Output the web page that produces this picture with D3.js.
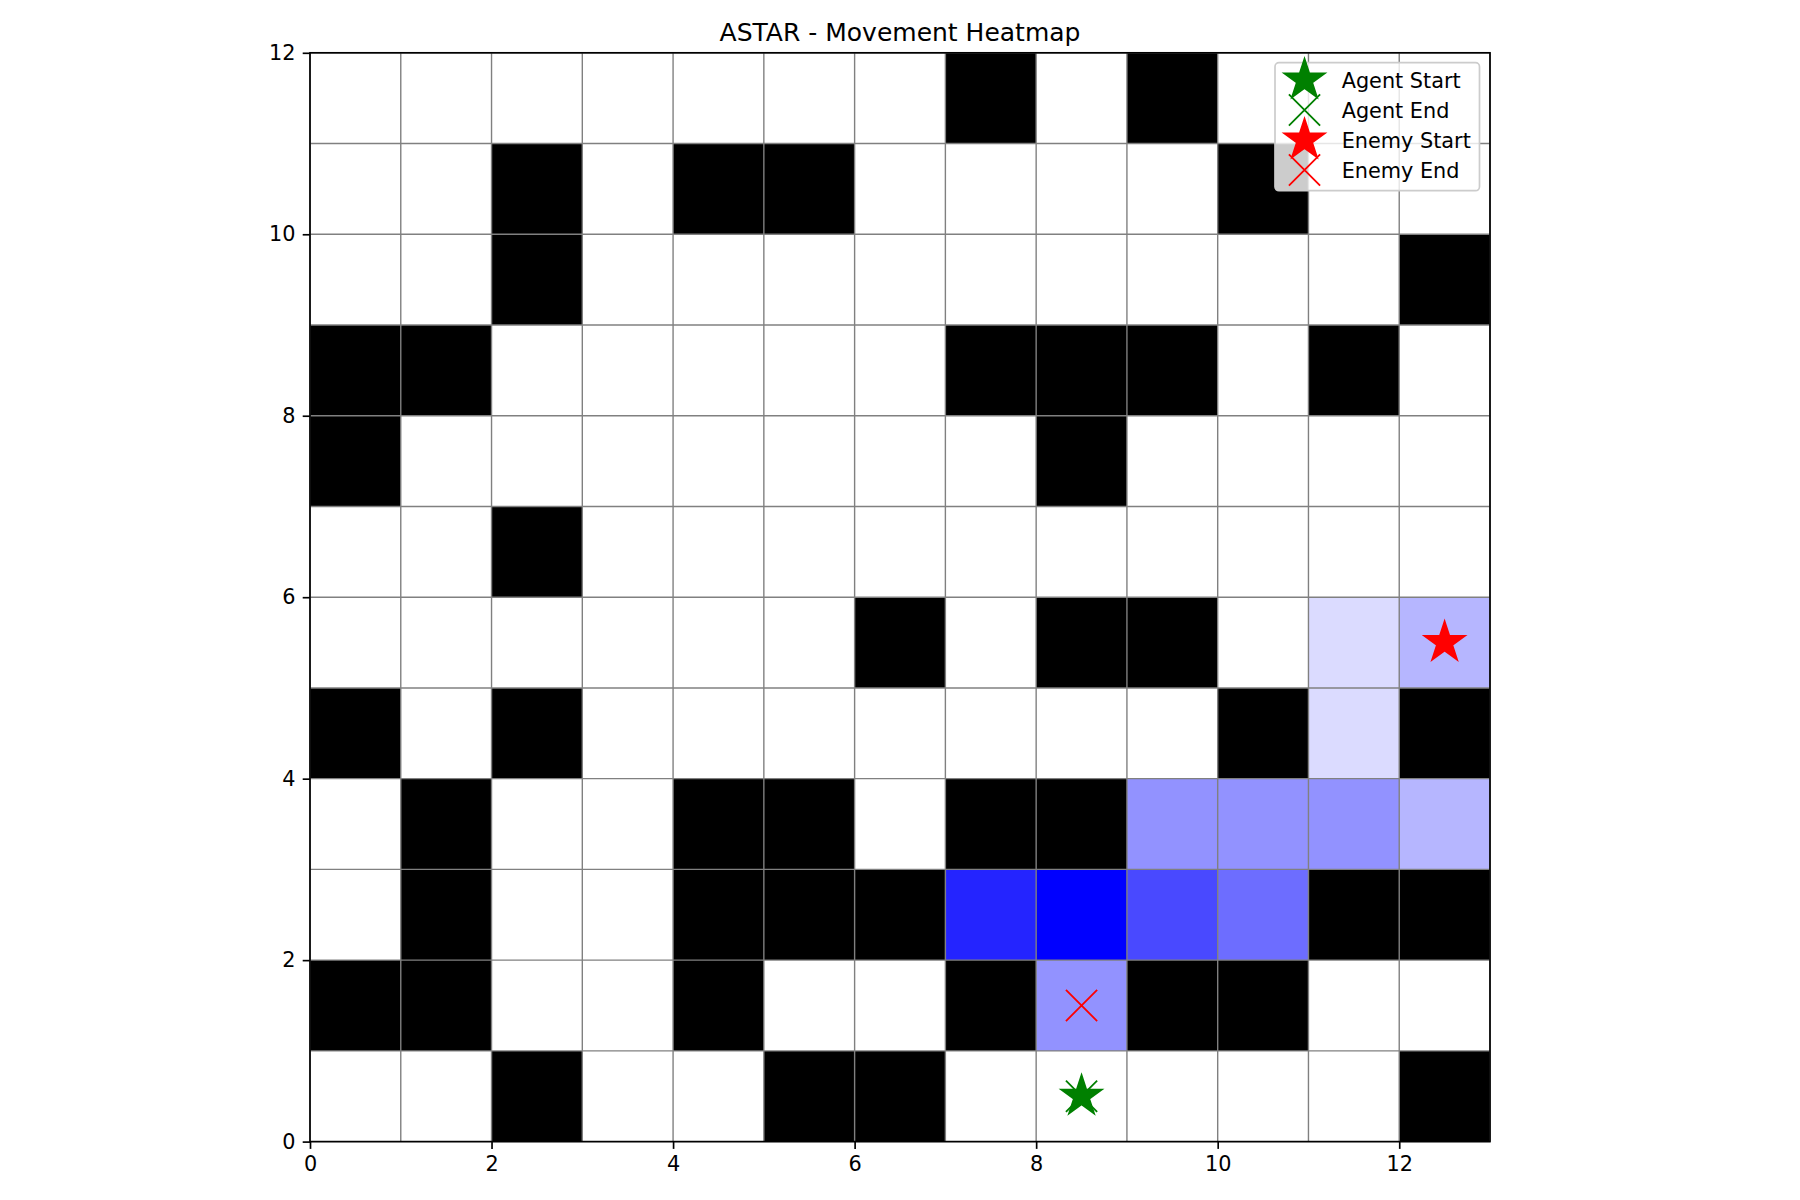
<!DOCTYPE html>
<html>
<head>
<meta charset="utf-8">
<script src="https://cdn.jsdelivr.net/npm/d3@7"></script>
<style>
  html, body { margin: 0; padding: 0; background: #fff; }
  svg { display: block; }
  text { font-family: "DejaVu Sans", sans-serif; }
</style>
</head>
<body>
<svg id="chart" width="1800" height="1200"></svg>
<script>
// ---------------- data ----------------
const chartTitle = "ASTAR - Movement Heatmap";
const gridCols = 13;
const gridRows = 12;
// obstacle map, rows listed from y = 11 (top) down to y = 0 (bottom); '#' = wall
const obstacleRows = [
  ".......#.#...",
  "..#.##....#..",
  "..#.........#",
  "##.....###.#.",
  "#.......#....",
  "..#..........",
  "......#.##...",
  "#.#.......#.#",
  ".#..##.##....",
  ".#..###....##",
  "##..#..#.##..",
  "..#..##.....#"
];
// visit counts (heatmap) on free cells
const visitX     = [12, 11, 11,  9, 10, 11, 12,  7,  8,  9, 10,  8];
const visitY     = [ 5,  5,  4,  3,  3,  3,  3,  2,  2,  2,  2,  1];
const visitCount = [ 2,  1,  1,  3,  3,  3,  2,  6,  7,  5,  4,  3];
// markers
const markerLabels = ["Agent Start", "Agent End", "Enemy Start", "Enemy End"];
const markerX      = [8.5, 8.5, 12.5, 8.5];
const markerY      = [0.5, 0.5, 5.5, 1.5];
const markerShape  = ["star", "x", "star", "x"];
const markerColor  = ["green", "green", "red", "red"];
const xTicks = [0, 2, 4, 6, 8, 10, 12];
const yTicks = [0, 2, 4, 6, 8, 10, 12];

// ---------------- layout ----------------
const L = 310, R = 1490, T = 52.8, B = 1141.6;
const fs = 20.8;
const svg = d3.select("#chart");
const x = d3.scaleLinear().domain([0, gridCols]).range([L, R]);
const y = d3.scaleLinear().domain([0, gridRows]).range([B, T]);
const maxCount = d3.max(visitCount);
const color = d3.scaleLinear().domain([0, maxCount]).range(["#ffffff", "#0000ff"]);

// build cell table
const cells = [];
obstacleRows.forEach((row, i) => {
  const cy = gridRows - 1 - i;
  row.split("").forEach((ch, cx) => {
    cells.push({cx, cy, wall: ch === "#", count: 0});
  });
});
visitX.forEach((vx, i) => {
  const c = cells.find(d => d.cx === vx && d.cy === visitY[i]);
  if (c) c.count = visitCount[i];
});

const plot = svg.append("g");
plot.selectAll("rect.cell").data(cells).join("rect")
  .attr("class", "cell")
  .attr("x", d => x(d.cx))
  .attr("y", d => y(d.cy + 1))
  .attr("width", d => x(d.cx + 1) - x(d.cx))
  .attr("height", d => y(d.cy) - y(d.cy + 1))
  .attr("fill", d => d.wall ? "#000000" : color(d.count))
  .attr("shape-rendering", "crispEdges");

// grid lines at every integer
const gx = d3.range(0, gridCols + 1), gy = d3.range(0, gridRows + 1);
plot.selectAll("line.gx").data(gx).join("line")
  .attr("x1", d => x(d)).attr("x2", d => x(d))
  .attr("y1", y(0)).attr("y2", y(gridRows))
  .attr("stroke", "#808080").attr("stroke-width", 1.4);
plot.selectAll("line.gy").data(gy).join("line")
  .attr("y1", d => y(d)).attr("y2", d => y(d))
  .attr("x1", x(0)).attr("x2", x(gridCols))
  .attr("stroke", "#808080").attr("stroke-width", 1.4);

// marker helpers
const starR = 20.85;
const starPts = d3.range(10).map(i => [i * Math.PI / 5, i % 2 === 0 ? starR : starR * 0.381966]);
const starPath = d3.lineRadial().curve(d3.curveLinearClosed)(starPts);
const xHalf = 15.6;
function drawMarker(g, shape, col) {
  if (shape === "star") {
    g.append("path").attr("d", starPath).attr("fill", col)
      .attr("stroke", col).attr("stroke-width", 2).attr("stroke-linejoin", "miter");
  } else {
    g.append("path")
      .attr("d", `M${-xHalf},${-xHalf}L${xHalf},${xHalf}M${-xHalf},${xHalf}L${xHalf},${-xHalf}`)
      .attr("fill", "none").attr("stroke", col).attr("stroke-width", 1.8);
  }
}
markerLabels.forEach((lab, i) => {
  const g = svg.append("g").attr("transform", `translate(${x(markerX[i])},${y(markerY[i])})`);
  drawMarker(g, markerShape[i], markerColor[i]);
});

// axes
const xAxis = d3.axisBottom(x).tickValues(xTicks).tickSize(7.3).tickPadding(7.3).tickFormat(d3.format("d"));
const yAxis = d3.axisLeft(y).tickValues(yTicks).tickSize(7.3).tickPadding(7.3).tickFormat(d3.format("d"));
const gxA = svg.append("g").attr("transform", `translate(0,${B})`).call(xAxis);
const gyA = svg.append("g").attr("transform", `translate(${L},0)`).call(yAxis);
[gxA, gyA].forEach(g => {
  g.select(".domain").remove();
  g.selectAll(".tick line").attr("stroke", "#000").attr("stroke-width", 1.67);
  g.selectAll(".tick text").attr("fill", "#000")
    .style("font-family", "'DejaVu Sans', sans-serif").style("font-size", fs + "px");
});
// spines
svg.append("rect").attr("x", L).attr("y", T).attr("width", R - L).attr("height", B - T)
  .attr("fill", "none").attr("stroke", "#000").attr("stroke-width", 1.67);

// title
svg.append("text").attr("x", (L + R) / 2).attr("y", 40.7)
  .attr("text-anchor", "middle").style("font-size", "25px").attr("fill", "#000")
  .text(chartTitle);

// legend
const lgX = 1275, lgY = 62.7, lgW = 204.5, lgH = 128;
const leg = svg.append("g");
leg.append("rect").attr("x", lgX).attr("y", lgY).attr("width", lgW).attr("height", lgH)
  .attr("rx", 4).attr("ry", 4)
  .attr("fill", "#ffffff").attr("fill-opacity", 0.8)
  .attr("stroke", "#cccccc").attr("stroke-width", 1.7);
markerLabels.forEach((lab, i) => {
  const base = 88.3 + i * 30;
  const g = leg.append("g").attr("transform", `translate(${lgX + 29.5},${base - 8.3})`);
  drawMarker(g, markerShape[i], markerColor[i]);
  leg.append("text").attr("x", lgX + 66.7).attr("y", base)
    .style("font-size", fs + "px").attr("fill", "#000").text(lab);
});
</script>
</body>
</html>
